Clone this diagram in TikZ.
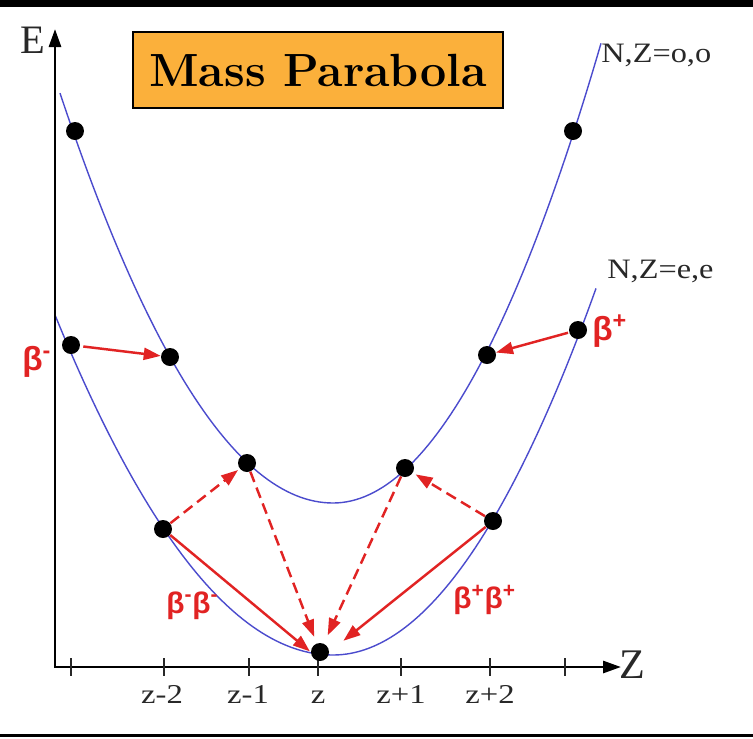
\documentclass[tikz,border=0pt]{standalone}
\usepackage{fontspec}
\usepackage{graphicx}
\newfontfamily\tms{Liberation Serif}
\newfontfamily\arl{Liberation Sans}
\usetikzlibrary{arrows.meta}
\definecolor{curveblue}{RGB}{75,75,205}
\definecolor{betared}{RGB}{225,35,35}
\definecolor{boxorange}{RGB}{251,176,59}
\definecolor{txtgray}{RGB}{40,40,40}
\begin{document}
\begin{tikzpicture}[x=0.02cm,y=-0.02cm,
  dot/.style={circle,fill=black,inner sep=0pt,minimum size=0.36cm},
  curve/.style={draw=curveblue,line width=0.8pt},
  axisline/.style={line width=1.6pt,{Triangle[length=0.36cm,width=0.24cm]}-{Triangle[length=0.36cm,width=0.24cm]}},
  decay/.style={draw=betared,line width=1.4pt,-{Triangle[length=0.34cm,width=0.24cm]}},
  ddecay/.style={decay,dash pattern=on 0.22cm off 0.12cm},
  ticklab/.style={font=\tms\fontsize{15.5}{18}\selectfont,text=txtgray,inner sep=0pt,anchor=base},
  curvelab/.style={font=\tms\fontsize{16}{18}\selectfont,text=txtgray,inner sep=0pt,anchor=base west},
  axislab/.style={font=\tms\fontsize{23}{26}\selectfont,text=txtgray,inner sep=0pt,anchor=base},
  betalab/.style={font=\arl\bfseries\fontsize{19}{22}\selectfont,text=betared,inner sep=0pt,anchor=base west},
  dbetalab/.style={betalab,font=\arl\bfseries\fontsize{17}{20}\selectfont},
  tickmark/.style={line width=0.8pt,draw=txtgray}
]
\useasboundingbox (0,0) rectangle (753,738);
% frame lines
\fill[black] (0,0) rectangle (753,7);
\draw[line width=1.2pt] (0,735.5) -- (753,735.5);

% curves (odd-odd, upper)
\draw[curve] plot[domain=60:333,samples=60] (\x,{503-55*((\x-333)/100)^2})
             -- plot[domain=333:601,samples=60] (\x,{503-64*((\x-333)/100)^2});
% curves (even-even, lower)
\draw[curve] plot[domain=55:333,samples=60] (\x,{655-44*((\x-333)/100)^2})
             -- plot[domain=333:596,samples=60] (\x,{655-53*((\x-333)/100)^2});

% axes
\coordinate (O) at (55,667);
\coordinate (Etip) at (55,29);
\coordinate (Ztip) at (621,667);
\draw[axisline] (Etip) -- (O) -- (Ztip);
\foreach \x in {71,164,249,318,401,490,565} \draw[tickmark] (\x,658) -- (\x,676);

\node[axislab] (E) at (33,53) {E};
\node[axislab,font=\tms\fontsize{24}{28}\selectfont] (Z) at (632,678) {Z};
\node[ticklab] (t1) at (162,703) {\scalebox{1.2}[1]{z-2}};
\node[ticklab] (t2) at (248,703) {\scalebox{1.2}[1]{z-1}};
\node[ticklab] (t3) at (318,703) {\scalebox{1.2}[1]{z}};
\node[ticklab] (t4) at (401,703) {\scalebox{1.2}[1]{z+1}};
\node[ticklab] (t5) at (490,703) {\scalebox{1.2}[1]{z+2}};

\node[curvelab] (oo) at (601,62) {\scalebox{1.15}[1]{N,Z=o,o}};
\node[curvelab] (ee) at (607,278) {\scalebox{1.15}[1]{N,Z=e,e}};

% title
\node[draw=black,fill=boxorange,line width=1.1pt,minimum width=7.4cm,minimum height=1.52cm,
      font=\bfseries\fontsize{26.5}{30}\selectfont] (title) at (318,70) {Mass Parabola};

% dots
\node[dot] (u3l) at (75,131) {};
\node[dot] (u2l) at (170,357) {};
\node[dot] (u1l) at (247,463) {};
\node[dot] (u1r) at (405,468) {};
\node[dot] (u2r) at (487,355) {};
\node[dot] (u3r) at (573,131) {};
\node[dot] (l3l) at (71,345) {};
\node[dot] (l2l) at (163,529) {};
\node[dot] (l0) at (320,652) {};
\node[dot] (l2r) at (493,521) {};
\node[dot] (l3r) at (578,330) {};

% decays
\draw[decay,shorten <=0.06cm] (l3l) -- (u2l);
\draw[decay,shorten <=0.02cm] (l3r) -- (u2r);
\draw[ddecay,shorten >=0.04cm] (l2l) -- (u1l);
\draw[ddecay,shorten >=0.06cm] (l2r) -- (u1r);
\draw[ddecay,shorten >=0.14cm] (u1l) -- (l0);
\draw[ddecay,shorten >=0.18cm] (u1r) -- (l0);
\draw[decay,shorten >=0.02cm] (l2l) -- (l0.west);
\draw[decay,shorten >=0.36cm] (l2r) -- (l0.east);

% beta labels
\node[betalab] (bm) at (22,370) {β\textsuperscript{-}};
\node[betalab] (bp) at (592,340) {β\textsuperscript{+}};
\node[dbetalab] (bmbm) at (166,613) {β\textsuperscript{-}β\textsuperscript{-}};
\node[dbetalab] (bpbp) at (453,608) {β\textsuperscript{+}β\textsuperscript{+}};
\end{tikzpicture}
\end{document}
